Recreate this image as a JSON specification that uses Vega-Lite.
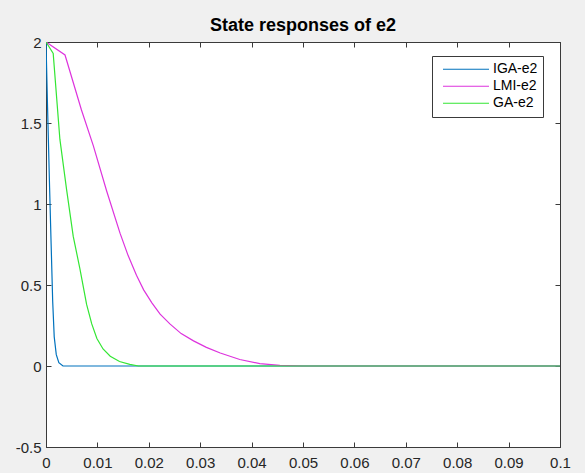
{
  "$schema": "https://vega.github.io/schema/vega-lite/v6.json",
  "width": 514,
  "height": 405,
  "autosize": {"type": "none"},
  "padding": {"left": 46, "top": 42, "right": 25, "bottom": 26},
  "background": "#f0f0f0",
  "title": {"text": "State responses of e2", "fontSize": 18, "fontWeight": "bold", "font": "Liberation Sans", "color": "#000000", "offset": 0, "anchor": "middle"},
  "config": {
    "view": {"fill": "#ffffff", "stroke": "#3a3a3a", "strokeWidth": 1},
    "axis": {"labelFont": "Liberation Sans", "labelFontSize": 15, "labelColor": "#262626", "domainColor": "#3a3a3a", "tickColor": "#3a3a3a", "grid": false, "title": null, "tickSize": -5, "domainWidth": 1}
  },
  "data": {"values": [
    {"t": 0, "v": 2, "s": "IGA-e2"},
    {"t": 0.0003, "v": 1.6, "s": "IGA-e2"},
    {"t": 0.0007, "v": 1.1, "s": "IGA-e2"},
    {"t": 0.001, "v": 0.75, "s": "IGA-e2"},
    {"t": 0.0013, "v": 0.4, "s": "IGA-e2"},
    {"t": 0.0016, "v": 0.18, "s": "IGA-e2"},
    {"t": 0.002, "v": 0.07, "s": "IGA-e2"},
    {"t": 0.0025, "v": 0.02, "s": "IGA-e2"},
    {"t": 0.0033, "v": 0, "s": "IGA-e2"},
    {"t": 0.1, "v": 0, "s": "IGA-e2"},
    {"t": 0, "v": 2, "s": "LMI-e2"},
    {"t": 0.0037, "v": 1.92, "s": "LMI-e2"},
    {"t": 0.0069, "v": 1.58, "s": "LMI-e2"},
    {"t": 0.0092, "v": 1.36, "s": "LMI-e2"},
    {"t": 0.0118, "v": 1.08, "s": "LMI-e2"},
    {"t": 0.0144, "v": 0.82, "s": "LMI-e2"},
    {"t": 0.016, "v": 0.68, "s": "LMI-e2"},
    {"t": 0.0176, "v": 0.56, "s": "LMI-e2"},
    {"t": 0.019, "v": 0.47, "s": "LMI-e2"},
    {"t": 0.0206, "v": 0.39, "s": "LMI-e2"},
    {"t": 0.0222, "v": 0.32, "s": "LMI-e2"},
    {"t": 0.0241, "v": 0.26, "s": "LMI-e2"},
    {"t": 0.0263, "v": 0.2, "s": "LMI-e2"},
    {"t": 0.0287, "v": 0.155, "s": "LMI-e2"},
    {"t": 0.0312, "v": 0.115, "s": "LMI-e2"},
    {"t": 0.0339, "v": 0.08, "s": "LMI-e2"},
    {"t": 0.0377, "v": 0.04, "s": "LMI-e2"},
    {"t": 0.0416, "v": 0.015, "s": "LMI-e2"},
    {"t": 0.0455, "v": 0.004, "s": "LMI-e2"},
    {"t": 0.05, "v": 0, "s": "LMI-e2"},
    {"t": 0.1, "v": 0, "s": "LMI-e2"},
    {"t": 0, "v": 2, "s": "GA-e2"},
    {"t": 0.0014, "v": 1.93, "s": "GA-e2"},
    {"t": 0.0027, "v": 1.4, "s": "GA-e2"},
    {"t": 0.004, "v": 1.09, "s": "GA-e2"},
    {"t": 0.0053, "v": 0.8, "s": "GA-e2"},
    {"t": 0.0066, "v": 0.6, "s": "GA-e2"},
    {"t": 0.0079, "v": 0.38, "s": "GA-e2"},
    {"t": 0.0089, "v": 0.26, "s": "GA-e2"},
    {"t": 0.0099, "v": 0.17, "s": "GA-e2"},
    {"t": 0.0111, "v": 0.105, "s": "GA-e2"},
    {"t": 0.0125, "v": 0.06, "s": "GA-e2"},
    {"t": 0.0143, "v": 0.028, "s": "GA-e2"},
    {"t": 0.0163, "v": 0.01, "s": "GA-e2"},
    {"t": 0.018, "v": 0, "s": "GA-e2"},
    {"t": 0.1, "v": 0, "s": "GA-e2"}
  ]},
  "layer": [
    {
      "mark": {"type": "line", "strokeWidth": 1.2, "clip": true},
      "encoding": {
        "x": {"field": "t", "type": "quantitative", "scale": {"domain": [0, 0.1], "nice": false, "zero": false},
          "axis": {"orient": "bottom", "values": [0, 0.01, 0.02, 0.03, 0.04, 0.05, 0.06, 0.07, 0.08, 0.09, 0.1], "format": ".2~f", "labelPadding": 13, "labelFlush": false, "labelOverlap": false}},
        "y": {"field": "v", "type": "quantitative", "scale": {"domain": [-0.5, 2], "nice": false, "zero": false},
          "axis": {"orient": "left", "values": [-0.5, 0, 0.5, 1, 1.5, 2], "format": ".1~f", "labelExpr": "replace(datum.label, '\u2212', '-')", "labelPadding": 10, "labelFlush": false, "labelOverlap": false}},
        "color": {"field": "s", "type": "nominal", "sort": null,
          "scale": {"domain": ["IGA-e2", "LMI-e2", "GA-e2"], "range": ["#0072BD", "#DD33DD", "#33E633"]},
          "legend": {"title": null, "orient": "none", "legendX": 386, "legendY": 14, "symbolType": "stroke", "symbolSize": 2116, "symbolStrokeWidth": 1.2, "clipHeight": 16.5, "labelFont": "Liberation Sans", "labelFontSize": 14, "labelColor": "#000000", "strokeColor": "#3a3a3a", "fillColor": "#ffffff", "padding": 5, "rowPadding": 0, "labelOffset": 3, "symbolOffset": 5}}
      }
    },
    {
      "mark": {"type": "point", "opacity": 0},
      "encoding": {
        "x": {"field": "t", "type": "quantitative", "axis": {"orient": "top", "values": [0, 0.01, 0.02, 0.03, 0.04, 0.05, 0.06, 0.07, 0.08, 0.09, 0.1], "labels": false}},
        "y": {"field": "v", "type": "quantitative", "axis": {"orient": "right", "values": [-0.5, 0, 0.5, 1, 1.5, 2], "labels": false}}
      }
    }
  ],
  "resolve": {"axis": {"x": "independent", "y": "independent"}}
}
